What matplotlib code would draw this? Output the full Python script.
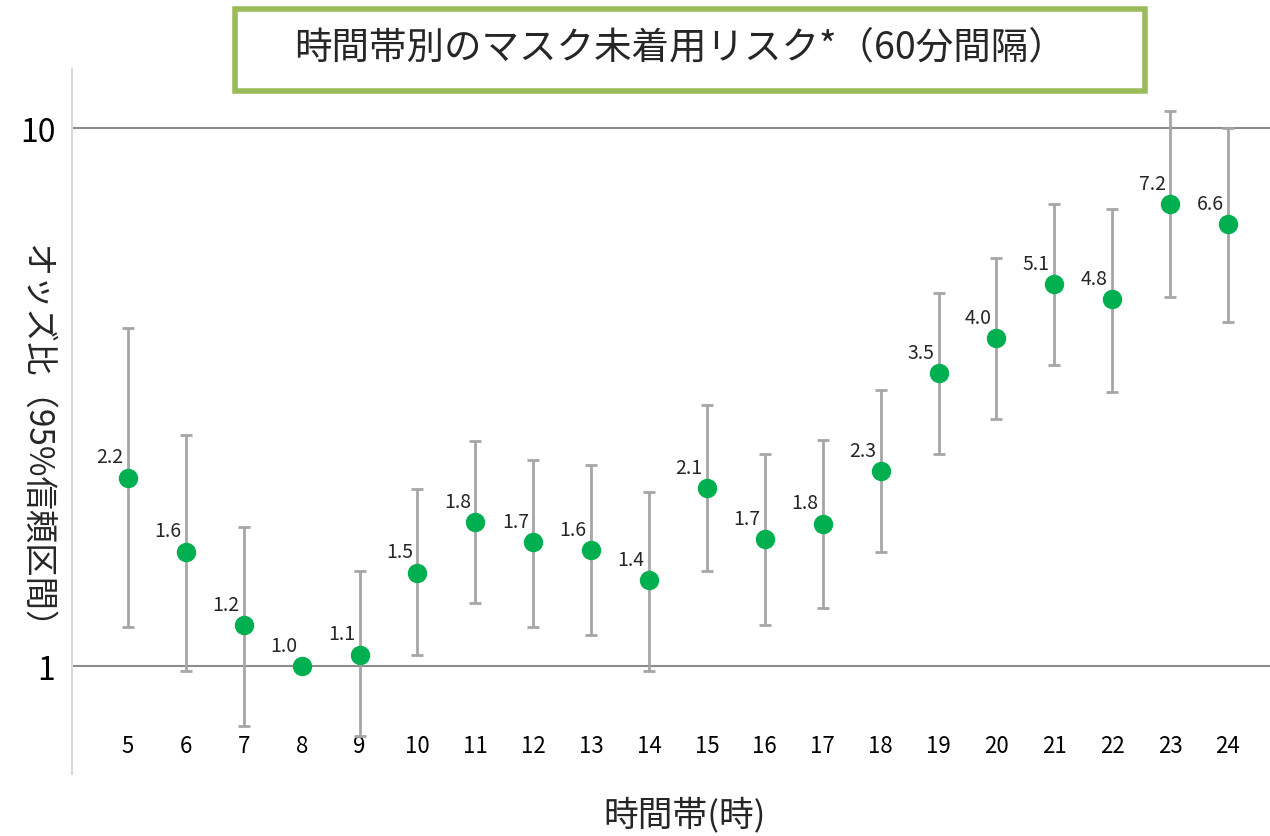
import numpy as np
import matplotlib.pyplot as plt
from matplotlib.patches import Rectangle

plt.rcParams['font.family'] = ['Noto Sans CJK JP', 'DejaVu Sans']

hours = ["5", "6", "7", "8", "9", "10", "11", "12", "13", "14",
         "15", "16", "17", "18", "19", "20", "21", "22", "23", "24"]
odds = [2.2, 1.6, 1.2, 1.0, 1.1, 1.5, 1.8, 1.7, 1.6, 1.4,
        2.1, 1.7, 1.8, 2.3, 3.5, 4.0, 5.1, 4.8, 7.2, 6.6]
odds_plot = [2.24, 1.63, 1.19, 1.0, 1.05, 1.49, 1.85, 1.70, 1.64, 1.445,
             2.14, 1.72, 1.84, 2.30, 3.50, 4.07, 5.13, 4.81, 7.22, 6.63]
ci_low = [1.18, 0.98, 0.774, np.nan, 0.741, 1.048, 1.31, 1.18, 1.14, 0.98,
          1.50, 1.19, 1.28, 1.63, 2.48, 2.88, 3.63, 3.23, 4.85, 4.36]
ci_high = [4.25, 2.69, 1.81, np.nan, 1.50, 2.13, 2.62, 2.42, 2.36, 2.11,
           3.06, 2.48, 2.63, 3.26, 4.94, 5.73, 7.22, 7.07, 10.75, 10.0]

x = np.arange(len(hours))
y = np.array(odds_plot)
lo = y - np.array(ci_low)
hi = np.array(ci_high) - y

fig = plt.figure(figsize=(12.7, 8.37), dpi=100)
ax = fig.add_axes([72 / 1270, 1 - 775 / 837, 1198 / 1270, 705 / 837])

ax.set_yscale('log')
ax.set_ylim(0.630, 12.88)
ax.set_xlim(-0.967, 19.725)

for v in [1, 10]:
    ax.axhline(v, color='#8c8c8c', linewidth=1.5, zorder=1)

mask = ~np.isnan(lo)
ax.errorbar(x[mask], y[mask], yerr=[lo[mask], hi[mask]], fmt='none',
            ecolor='#a6a6a6', elinewidth=2, capsize=4, capthick=2, zorder=2)
ax.plot(x, y, 'o', color='#00b050', markersize=13, zorder=3)

for xi, yi, v in zip(x, y, odds):
    ax.annotate(f"{v:.1f}", (xi, yi), xytext=(-18, 21), textcoords='offset pixels',
                ha='center', va='center', fontsize=14, color='#262626')

ax.set_xticks(x)
ax.set_xticklabels(hours, fontsize=16)
ax.tick_params(axis='x', length=0, pad=-29)
ax.set_yticks([1, 10])
ax.set_yticklabels(["1", "10"], fontsize=23)
ax.yaxis.set_minor_locator(plt.NullLocator())
ax.tick_params(axis='y', length=0, pad=12)

for s in ['top', 'right', 'bottom']:
    ax.spines[s].set_visible(False)
ax.spines['left'].set_color('#d9d9d9')
ax.spines['left'].set_linewidth(1.5)

fig.text(36 / 1270, 1 - 445 / 837, "オッズ比（95%信頼区間）", rotation=270,
         ha='center', va='center', fontsize=24, color='#262626')
fig.text(685 / 1270, 1 - 815 / 837, "時間帯(時)", ha='center', va='center',
         fontsize=25, color='#262626')

box = Rectangle((235 / 1270, 1 - 92 / 837), 910 / 1270, 82 / 837,
                transform=fig.transFigure, facecolor='white',
                edgecolor='#9bbb59', linewidth=4, zorder=5)
fig.patches.append(box)
fig.text(680 / 1270, 1 - 48 / 837, "時間帯別のマスク未着用リスク*（60分間隔）",
         ha='center', va='center', fontsize=27, color='#262626', zorder=6)

fig.savefig("out.png", dpi=100)
